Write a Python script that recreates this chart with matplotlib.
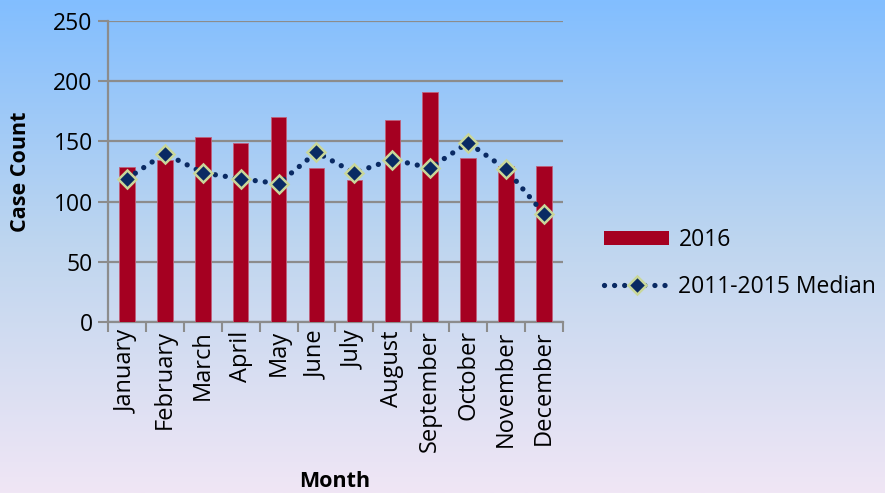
import numpy as np
import matplotlib
matplotlib.use("Agg")
import matplotlib.pyplot as plt
from matplotlib.colors import LinearSegmentedColormap
from matplotlib.lines import Line2D
from matplotlib.patches import Patch

months = ["January", "February", "March", "April", "May", "June", "July",
          "August", "September", "October", "November", "December"]
cases_2016 = [129, 135, 154, 149, 170, 128, 118, 168, 191, 136, 130, 130]
median_2011_2015 = [119, 140, 124, 119, 115, 141, 124, 135, 128, 149, 127, 90]
y_ticks = [0, 50, 100, 150, 200, 250]

plt.rcParams['font.family'] = ['Open Sans', 'DejaVu Sans']

fig = plt.figure(figsize=(8.85, 4.93), dpi=100)

# gradient background
bg = fig.add_axes([0, 0, 1, 1], zorder=-10)
cmap = LinearSegmentedColormap.from_list("bg", ["#82BEFF", "#BFD6EF", "#F0E6F5"])
grad = np.linspace(0, 1, 256).reshape(-1, 1)
bg.imshow(grad, aspect="auto", cmap=cmap, extent=[0, 1, 0, 1], origin="upper")
bg.axis("off")

dot_style = (0, (0.01, 1.9))
line_w = 3.8

ax = fig.add_axes([0.122, 0.347, 0.514, 0.610])
ax.set_facecolor("none")
x = np.arange(len(months))
ax.bar(x, cases_2016, width=0.41, color="#A50021", edgecolor="#C0607A",
       linewidth=0.6, zorder=3)
ax.plot(x, median_2011_2015, linestyle=dot_style, dash_capstyle="round",
        color="#0A2A63", linewidth=line_w, marker="D", markersize=9.5,
        markerfacecolor="#0A2A63", markeredgecolor="#C9D79A",
        markeredgewidth=1.8, zorder=4)

ax.set_xlim(-0.5, 11.5)
ax.set_ylim(0, 250)
ax.set_yticks(y_ticks)
ax.set_yticklabels([str(v) for v in y_ticks], fontsize=16.5)
ax.set_xticks(x)
ax.set_xticklabels(months, rotation=90, fontsize=17)
ax.tick_params(axis="x", which="major", length=0, pad=6)
ax.set_xticks(np.arange(-0.5, 12, 1), minor=True)
ax.tick_params(axis="x", which="minor", length=7, width=1.5, color="#8C8C8C")
ax.tick_params(axis="y", length=7, width=1.5, color="#8C8C8C", pad=4)
ax.grid(axis="y", color="#8C8C8C", linewidth=1.6, zorder=1)
for s in ["top", "right"]:
    ax.spines[s].set_visible(False)
for s in ["left", "bottom"]:
    ax.spines[s].set_color("#8C8C8C")
    ax.spines[s].set_linewidth(1.6)

ax.set_ylabel("Case Count", fontsize=15.5, fontweight="bold", labelpad=16)
fig.text(0.378, 0.024, "Month", fontsize=15.5, fontweight="bold", ha="center", va="center")

handles = [Patch(facecolor="#A50021", edgecolor="none"),
           Line2D([0], [0], linestyle=dot_style, dash_capstyle="round",
                  color="#0A2A63", linewidth=line_w, marker="D", markersize=9,
                  markerfacecolor="#0A2A63", markeredgecolor="#C9D79A",
                  markeredgewidth=1.8)]
fig.legend(handles, ["2016", "2011-2015 Median"], loc="center left",
           bbox_to_anchor=(0.6825, 0.4655), frameon=False, fontsize=16.5,
           handlelength=2.85, handleheight=0.55, labelspacing=1.0,
           handletextpad=0.4, borderpad=0, borderaxespad=0)

fig.savefig("out.png", dpi=100)
